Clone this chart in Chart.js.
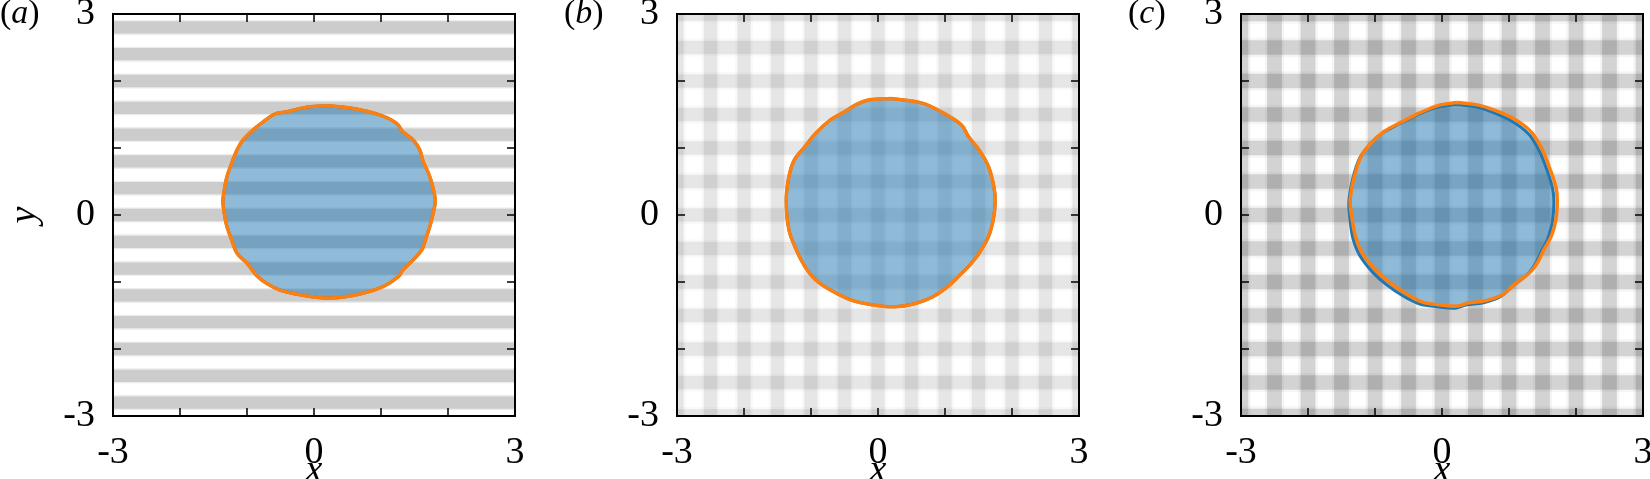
<!DOCTYPE html>
<html>
<head>
<meta charset="utf-8">
<script src="https://cdn.jsdelivr.net/npm/chart.js@4.4.1/dist/chart.umd.min.js"></script>
<style>
  html, body { margin: 0; padding: 0; background: #fff; overflow: hidden; }
  body { width: 1650px; height: 479px; position: relative; }
  canvas { position: absolute; top: -20px; }
  .tag { position: absolute; top: -5px; font-family: "Liberation Serif", serif; font-size: 34px; line-height: 1; color: #000; }
</style>
</head>
<body>
<canvas id="chartA" width="564" height="516" style="left:0px"></canvas>
<canvas id="chartB" width="564" height="516" style="left:564px"></canvas>
<canvas id="chartC" width="564" height="516" style="left:1128px"></canvas>
<div class="tag" style="left:0px">(<i>a</i>)</div>
<div class="tag" style="left:564px">(<i>b</i>)</div>
<div class="tag" style="left:1128px">(<i>c</i>)</div>
<script>
// tick labels shown on both axes
const tickValues = [-3, 0, 3]
const tickText = ['-3', '0', '3']

// background stripes: centres (data units)
const stripesA = [-2.8, -2.4, -2.0, -1.6, -1.2, -0.8, -0.4, 0, 0.4, 0.8, 1.2, 1.6, 2.0, 2.4, 2.8]
const latticeB = [-3, -2.5, -2, -1.5, -1, -0.5, 0, 0.5, 1, 1.5, 2, 2.5, 3]
const latticeC = [-3, -2.5, -2, -1.5, -1, -0.5, 0, 0.5, 1, 1.5, 2, 2.5, 3]

// interface outlines
const ax = [0.21, 0.59, 0.99, 1.23, 1.33, 1.48, 1.58, 1.63, 1.71, 1.76, 1.81, 1.78, 1.73, 1.68, 1.61, 1.48, 1.33, 1.26, 1.03, 0.69, 0.24, -0.21, -0.51, -0.71, -0.86, -1.00, -1.15, -1.23, -1.30, -1.33, -1.36, -1.34, -1.30, -1.23, -1.15, -1.06, -0.91, -0.76, -0.58, -0.41, -0.11, 0.21]
const ay = [1.63, 1.59, 1.49, 1.37, 1.24, 1.12, 0.97, 0.80, 0.62, 0.47, 0.22, 0.03, -0.17, -0.32, -0.52, -0.67, -0.82, -0.92, -1.07, -1.18, -1.24, -1.19, -1.12, -1.02, -0.90, -0.72, -0.57, -0.37, -0.17, -0.03, 0.20, 0.37, 0.57, 0.77, 0.97, 1.12, 1.27, 1.39, 1.51, 1.54, 1.61, 1.63]

const bx = [0.19, 0.66, 0.98, 1.25, 1.35, 1.51, 1.65, 1.73, 1.75, 1.72, 1.65, 1.51, 1.35, 1.25, 1.04, 0.82, 0.56, 0.24, -0.08, -0.40, -0.71, -0.93, -1.09, -1.22, -1.33, -1.37, -1.33, -1.25, -1.09, -0.93, -0.71, -0.50, -0.34, -0.13, 0.19]
const by = [1.74, 1.67, 1.52, 1.34, 1.17, 0.97, 0.72, 0.42, 0.20, -0.07, -0.32, -0.57, -0.77, -0.87, -1.07, -1.22, -1.32, -1.37, -1.34, -1.27, -1.12, -0.97, -0.77, -0.52, -0.22, 0.22, 0.57, 0.82, 1.02, 1.22, 1.42, 1.54, 1.64, 1.72, 1.74]

const cx = [0.23, 0.55, 0.90, 1.15, 1.35, 1.50, 1.60, 1.70, 1.72, 1.70, 1.63, 1.52, 1.42, 1.30, 1.10, 0.90, 0.65, 0.40, 0.23, -0.04, -0.29, -0.54, -0.79, -0.99, -1.19, -1.29, -1.34, -1.37, -1.31, -1.21, -1.06, -0.86, -0.60, -0.34, -0.04, 0.23]
const cy = [1.68, 1.64, 1.52, 1.39, 1.22, 0.97, 0.72, 0.42, 0.22, -0.07, -0.32, -0.52, -0.72, -0.87, -1.02, -1.19, -1.28, -1.31, -1.36, -1.34, -1.30, -1.17, -1.00, -0.82, -0.57, -0.32, -0.07, 0.22, 0.57, 0.87, 1.07, 1.25, 1.39, 1.52, 1.64, 1.68]
const cbx = [0.21, 0.52, 0.86, 1.11, 1.31, 1.46, 1.56, 1.65, 1.67, 1.65, 1.58, 1.48, 1.38, 1.26, 1.07, 0.87, 0.62, 0.37, 0.20, -0.07, -0.33, -0.58, -0.83, -1.03, -1.23, -1.33, -1.37, -1.39, -1.33, -1.23, -1.08, -0.88, -0.62, -0.36, -0.06, 0.21]
const cby = [1.65, 1.61, 1.49, 1.36, 1.19, 0.94, 0.69, 0.40, 0.20, -0.09, -0.35, -0.55, -0.75, -0.90, -1.05, -1.22, -1.31, -1.34, -1.39, -1.37, -1.33, -1.21, -1.04, -0.86, -0.60, -0.35, -0.09, 0.20, 0.55, 0.85, 1.05, 1.23, 1.37, 1.50, 1.61, 1.65]

const SERIF = '"Liberation Serif", "Times New Roman", serif'
const ORANGE = '#ff7f0e'
const BLUE = '#1f77b4'
Chart.defaults.font.family = SERIF

const pts = (xs, ys) => xs.map((x, i) => ({x: x, y: ys[i]}))

// frame and inward ticks on all four sides
const frame = {
  id: 'frame',
  afterDraw(chart) {
    const {ctx, chartArea: a, scales: {x, y}} = chart
    ctx.save()
    ctx.strokeStyle = '#000'
    ctx.lineWidth = 1.5
    ctx.beginPath()
    x.ticks.forEach(t => {
      const p = x.getPixelForValue(t.value)
      ctx.moveTo(p, a.bottom); ctx.lineTo(p, a.bottom - 8)
      ctx.moveTo(p, a.top); ctx.lineTo(p, a.top + 8)
    })
    y.ticks.forEach(t => {
      const p = y.getPixelForValue(t.value)
      ctx.moveTo(a.left, p); ctx.lineTo(a.left + 8, p)
      ctx.moveTo(a.right, p); ctx.lineTo(a.right - 8, p)
    })
    ctx.stroke()
    ctx.lineWidth = 2
    ctx.strokeRect(a.left, a.top, a.right - a.left, a.bottom - a.top)
    ctx.restore()
  }
}

function outline(xs, ys, color, width, fillColor) {
  return {
    type: 'line',
    data: pts(xs, ys),
    borderColor: color,
    borderWidth: width,
    backgroundColor: fillColor || 'transparent',
    fill: fillColor ? 'shape' : false,
    pointRadius: 0,
    tension: 0.35
  }
}

function hStripes(ys, color, pct) {
  return {
    type: 'bar', indexAxis: 'y', grouped: false,
    data: ys.map(v => ({y: v, x: [-3, 3]})),
    backgroundColor: color, borderWidth: 0,
    barPercentage: pct, categoryPercentage: 1
  }
}

function vStripes(xs, color, pct) {
  return {
    type: 'bar', grouped: false,
    data: xs.map(v => ({x: v, y: [-3, 3]})),
    backgroundColor: color, borderWidth: 0,
    barPercentage: pct, categoryPercentage: 1
  }
}

function axisOpts(titleText, showTitle, isX) {
  return {
    type: 'linear', min: -3, max: 3, offset: false,
    grid: {display: false, offset: false},
    border: {display: false},
    ticks: {
      stepSize: 1, autoSkip: false, maxRotation: 0, color: '#000',
      padding: isX ? 6 : 10,
      font: {family: SERIF, size: 38},
      callback: v => {
        const i = tickValues.indexOf(v)
        return i >= 0 ? tickText[i] : ''
      }
    },
    title: {
      display: showTitle, text: titleText, color: '#000',
      font: {family: SERIF, size: 38, style: 'italic'},
      padding: isX ? {bottom: 2} : {top: 2}
    },
    afterFit: isX ? (s => { s.height = 80 }) : (s => { s.width = 113 })
  }
}

function panel(id, datasets, showY) {
  new Chart(document.getElementById(id), {
    type: 'scatter',
    data: {datasets: datasets},
    options: {
      responsive: false,
      animation: false,
      layout: {padding: {left: 0, top: 34, right: 49, bottom: 0}},
      plugins: {legend: {display: false}, tooltip: {enabled: false}},
      scales: {
        x: axisOpts('x', true, true),
        y: axisOpts('y', showY, false)
      }
    },
    plugins: [frame]
  })
}

panel('chartA', [
  outline(ax, ay, ORANGE, 3.5),
  outline(ax, ay, BLUE, 3, 'rgba(31,119,180,0.5)'),
  hStripes(stripesA, '#cccccc', 0.46),
  hStripes(stripesA, '#ececec', 0.56)
], true)

panel('chartB', [
  outline(bx, by, ORANGE, 3.5),
  outline(bx, by, BLUE, 3, 'rgba(31,119,180,0.5)'),
  vStripes(latticeB, 'rgba(0,0,0,0.08)', 0.4),
  hStripes(latticeB, 'rgba(0,0,0,0.08)', 0.4),
  vStripes(latticeB, 'rgba(0,0,0,0.025)', 0.54),
  hStripes(latticeB, 'rgba(0,0,0,0.025)', 0.54)
], false)

panel('chartC', [
  outline(cx, cy, ORANGE, 3.5),
  outline(cbx, cby, BLUE, 3, 'rgba(31,119,180,0.5)'),
  vStripes(latticeC, 'rgba(0,0,0,0.14)', 0.44),
  hStripes(latticeC, 'rgba(0,0,0,0.14)', 0.44),
  vStripes(latticeC, 'rgba(0,0,0,0.04)', 0.58),
  hStripes(latticeC, 'rgba(0,0,0,0.04)', 0.58)
], false)
</script>
</body>
</html>
